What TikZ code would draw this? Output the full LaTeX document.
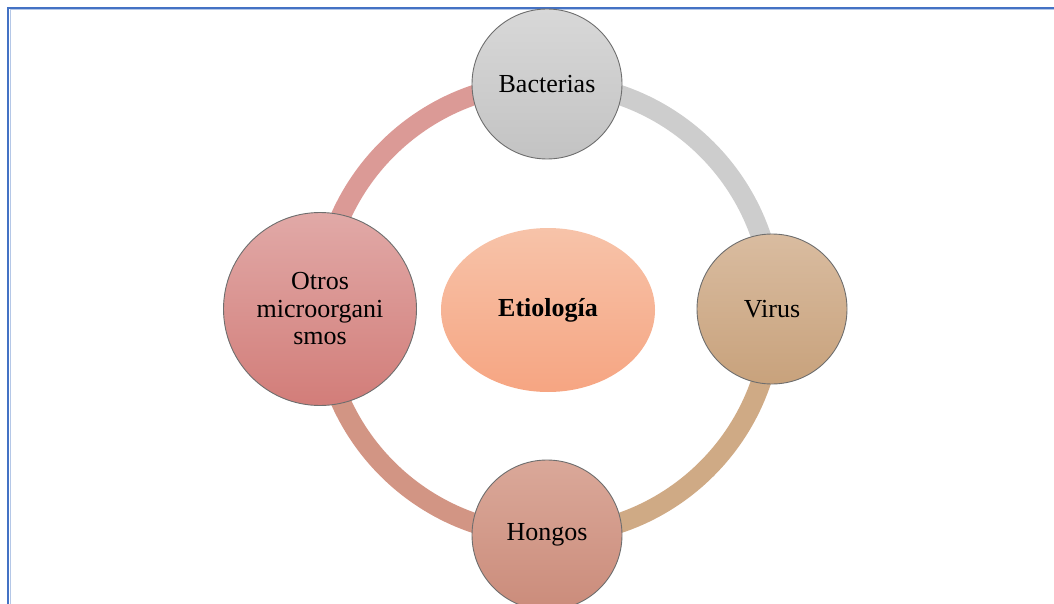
\documentclass[tikz,border=0pt]{standalone}
\usepackage{fontspec}
\setmainfont{Liberation Serif}
\usetikzlibrary{shapes.geometric}
\definecolor{frameblue}{HTML}{4472C4}
\definecolor{framelight}{HTML}{B4C7E7}
\definecolor{bacTop}{HTML}{D8D8D8}
\definecolor{bacBot}{HTML}{C3C3C3}
\definecolor{virTop}{HTML}{D9BCA0}
\definecolor{virBot}{HTML}{C8A27C}
\definecolor{honTop}{HTML}{DAA899}
\definecolor{honBot}{HTML}{CB8C7B}
\definecolor{otrTop}{HTML}{E1A9A7}
\definecolor{otrBot}{HTML}{D27D79}
\definecolor{etiTop}{HTML}{F7C3A9}
\definecolor{etiBot}{HTML}{F6A582}
\definecolor{arcOtr}{HTML}{DB9A96}
\definecolor{arcBac}{HTML}{CDCDCD}
\definecolor{arcVir}{HTML}{CFAA85}
\definecolor{arcHon}{HTML}{D29584}
\definecolor{rim}{HTML}{6E6E6E}
\begin{document}
\begin{tikzpicture}[x=1pt,y=-1pt,
  bubble/.style={circle,draw=rim,line width=0.9pt,inner sep=0pt,align=center,
    font=\fontsize{26}{27.5}\selectfont},
  ringarc/.style={line width=20pt,line cap=butt}]
\useasboundingbox (0,0) rectangle (1054,604);
% frame
\draw[framelight,line width=1pt] (10,604) -- (10,10) -- (1054,10);
\draw[frameblue,line width=2.5pt] (8,604) -- (8,8) -- (1054,8);
% ring
\coordinate (ringc) at (547,309);
\draw[ringarc,arcOtr] (ringc) ++(180:226) arc[start angle=180,end angle=270,radius=226];
\draw[ringarc,arcBac] (ringc) ++(270:226) arc[start angle=270,end angle=360,radius=226];
\draw[ringarc,arcVir] (ringc) ++(0:226) arc[start angle=0,end angle=90,radius=226];
\draw[ringarc,arcHon] (ringc) ++(90:226) arc[start angle=90,end angle=180,radius=226];
% nodes
\node[bubble,minimum size=150pt,top color=bacTop,bottom color=bacBot] (bac) at (547,84) {Bacterias};
\node[bubble,minimum size=150pt,top color=virTop,bottom color=virBot] (vir) at (772,309) {Virus};
\node[bubble,minimum size=150pt,top color=honTop,bottom color=honBot] (hon) at (547,535) {Hongos};
\node[bubble,minimum size=193pt,top color=otrTop,bottom color=otrBot] (otr) at (320,309) {Otros\\microorgani\\smos};
\node[ellipse,minimum width=214pt,minimum height=164pt,inner sep=0pt,
  top color=etiTop,bottom color=etiBot,font=\fontsize{26}{28}\selectfont\bfseries] (eti) at (548,310) {Etiología};
\end{tikzpicture}
\end{document}
